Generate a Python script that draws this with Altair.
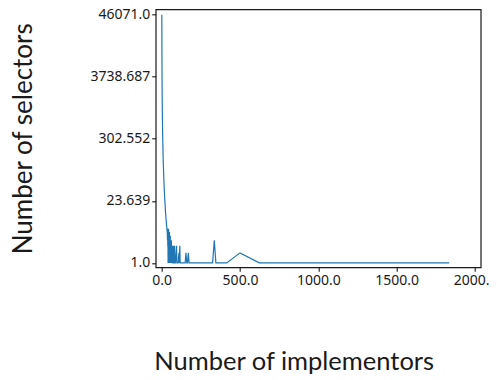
import altair as alt
import pandas as pd

# Number of implementors (x) and number of selectors having that many implementors (y)
implementors = [1, 2, 3, 4, 5, 6, 7, 8, 9, 10, 11, 12, 13, 14, 15, 16, 17, 18, 19, 20,
                21, 22, 23, 24, 25, 26, 27, 28, 29, 30, 31, 32, 33, 34, 35, 36, 37, 38, 39, 40,
                41, 42, 43, 44, 45, 46, 47, 48, 50, 51, 52, 53, 55, 56, 58, 60, 62, 63, 65, 66,
                68, 70, 72, 75, 77, 80, 82, 84, 88, 92, 95, 97, 100, 105, 110, 112, 116, 118, 125, 130,
                140, 150, 155, 160, 165, 170, 175, 200, 325, 336, 346, 415, 500, 623, 1835]
selectors = [46071, 6500, 2100, 1000, 620, 420, 300, 220, 160, 120, 100, 82, 68, 58, 50, 42, 36, 32, 28, 25,
             22, 20, 18, 16, 14, 13, 12, 11, 10, 9, 8, 8, 7, 7, 6, 6, 4, 7, 3, 5,
             1, 6, 2, 7, 4, 1, 5, 3, 6, 1, 4, 2, 5, 1, 3, 1, 4, 1, 2, 1,
             3, 1, 1, 3, 1, 1, 3, 1, 1, 2, 3, 1, 1, 1, 2, 1, 3, 1, 1, 1,
             1, 1, 2, 1, 1, 2, 1, 1, 1, 4, 1, 1, 2, 1, 1]

y_ticks = [1.0, 23.639, 302.552, 3738.687, 46071.0]
x_ticks = [0, 500, 1000, 1500, 2000]

df = pd.DataFrame({"x": implementors, "y": selectors})

W, H = 325, 258

chart = alt.Chart(df).mark_line(color="#1f77b4", strokeWidth=1.2, clip=True).encode(
    x=alt.X("x:Q",
            scale=alt.Scale(domain=[-38, 2036], nice=False, zero=False),
            axis=alt.Axis(values=x_ticks, labelExpr="format(datum.value, '.1f')",
                          title="Number of implementors", titleX=138, titleY=102,
                          titleFontSize=25.5,
                          titleBaseline="alphabetic", titleAlign="center")),
    y=alt.Y("y:Q",
            scale=alt.Scale(type="symlog", constant=1, domain=[0.674, 57290], nice=False, zero=False),
            axis=alt.Axis(values=y_ticks,
                          labelExpr="datum.value == 1 || datum.value == 46071 ? format(datum.value, '.1f') : format(datum.value, '.3f')",
                          title="Number of selectors", titleX=-132, titleY=129,
                          titleFontSize=26,
                          titleAngle=-90, titleAlign="center", titleBaseline="middle")),
).properties(
    width=W, height=H,
    autosize=alt.AutoSizeParams(type="none"),
    padding={"left": 147.7, "top": 1.3, "right": 8.3, "bottom": 112.7},
).configure_view(
    stroke="#1a1a1a", strokeWidth=1.2
).configure_axis(
    grid=False,
    domain=False,
    tickColor="#1a1a1a", tickSize=4, tickWidth=1.1,
    labelFont="Noto Sans", labelFontSize=14, labelColor="#1a1a1a", labelPadding=2,
    titleFont="Lato", titleFontWeight="normal", titleColor="#1a1a1a",
)

chart.save("out.html", embed_options={"renderer": "svg", "actions": False})
